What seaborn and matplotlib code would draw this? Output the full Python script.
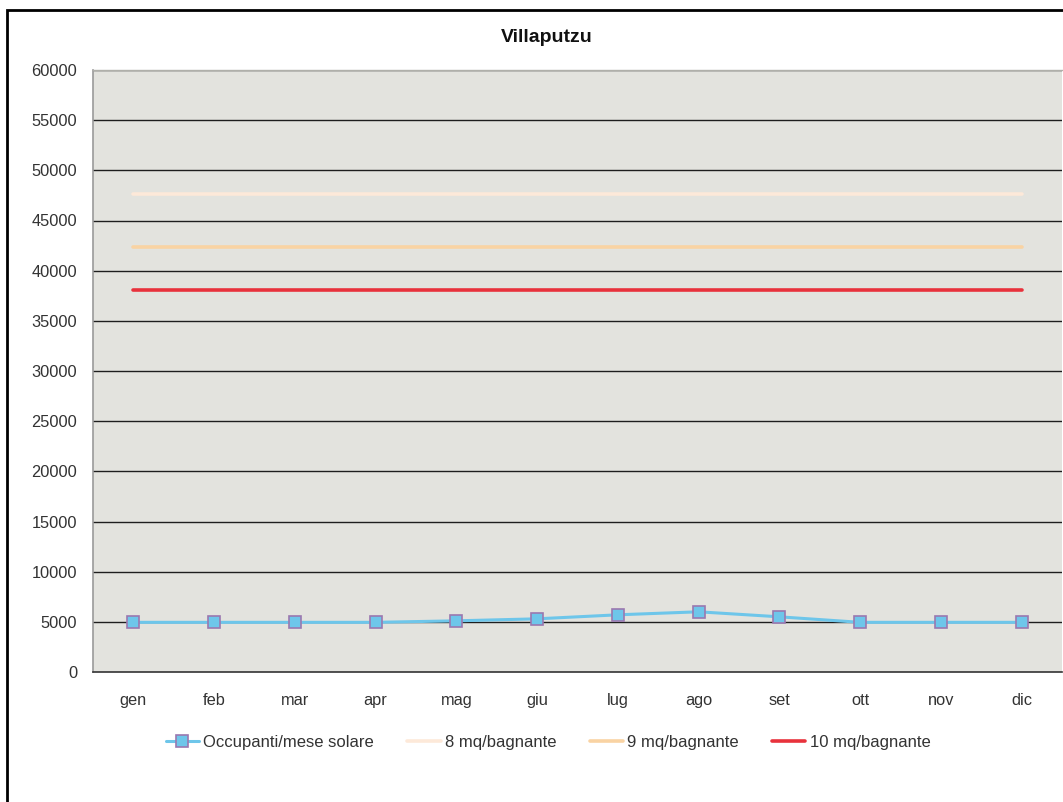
import matplotlib
matplotlib.use("Agg")
import matplotlib.pyplot as plt
import seaborn as sns
import pandas as pd
from matplotlib.patches import Rectangle

months = ["gen", "feb", "mar", "apr", "mag", "giu", "lug", "ago", "set", "ott", "nov", "dic"]
occupanti = [4950, 4950, 4950, 4950, 5100, 5300, 5700, 6000, 5500, 4950, 4950, 4950]
mq8 = [47600] * 12
mq9 = [42350] * 12
mq10 = [38050] * 12
yticks = list(range(0, 60001, 5000))

sns.set_theme(style="white")
plt.rcParams['font.family'] = ['Liberation Sans', 'DejaVu Sans']

fig = plt.figure(figsize=(10.63, 8.02), dpi=100)
ax = fig.add_axes([93/1063, 1-672/802, (1062-93)/1063, (672-70)/802])
ax.set_facecolor("#e3e3de")

x = list(range(len(months)))
sns.lineplot(x=x, y=mq8, ax=ax, color="#fde9d9", linewidth=2.6, label="8 mq/bagnante", zorder=3)
sns.lineplot(x=x, y=mq9, ax=ax, color="#f9d3a3", linewidth=2.6, label="9 mq/bagnante", zorder=3)
sns.lineplot(x=x, y=mq10, ax=ax, color="#e8323c", linewidth=2.6, label="10 mq/bagnante", zorder=3)
sns.lineplot(x=x, y=occupanti, ax=ax, color="#6ec6ea", linewidth=2.2, marker="s",
             markersize=9, markerfacecolor="#6ec6ea", markeredgecolor="#9a78b0",
             markeredgewidth=1.2, label="Occupanti/mese solare", zorder=4)

ax.set_xlim(-0.5, 11.5)
ax.set_ylim(0, 60000)
ax.set_yticks(yticks)
ax.set_yticklabels([str(v) for v in yticks])
ax.set_xticks(x)
ax.set_xticklabels(months)
for v in yticks[1:]:
    ax.axhline(v, color="#1e1e1e", linewidth=1.0, zorder=1)
ax.tick_params(axis="both", length=0, labelsize=11.8, labelcolor="#333333")
ax.tick_params(axis="y", pad=11.5)
ax.tick_params(axis="x", pad=15)
ax.spines["right"].set_visible(False)
ax.spines["left"].set_color("#9a9a9a")
ax.spines["left"].set_linewidth(1.2)
ax.spines["bottom"].set_color("#333333")
ax.spines["bottom"].set_linewidth(1.2)
ax.spines["top"].set_color("#b0b0aa")
ax.spines["top"].set_linewidth(1.0)
ax.set_xlabel("")
ax.set_ylabel("")

fig.text(547/1063, 1-38/802, "Villaputzu", ha="center", va="center", fontsize=14,
         fontweight="bold", color="#111111")

handles, labels = ax.get_legend_handles_labels()
order = [3, 0, 1, 2]
ax.legend([handles[i] for i in order], [labels[i] for i in order], ncol=4, frameon=False,
          loc="center", bbox_to_anchor=(548/1063, 1-742/802), bbox_transform=fig.transFigure,
          fontsize=12, handlelength=2.0, columnspacing=2.0, handletextpad=0.25,
          labelcolor="#333333")

fig.patches.append(Rectangle((7/1063, -0.01), 1.1, 1-10/802 + 0.01, transform=fig.transFigure,
                             fill=False, edgecolor="black", linewidth=2.0, zorder=10))

fig.savefig("out.png", dpi=100)
